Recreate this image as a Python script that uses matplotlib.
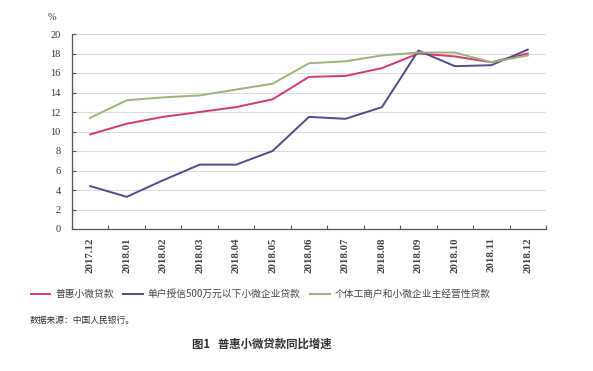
import matplotlib
matplotlib.use('Agg')
import matplotlib.pyplot as plt

months = ['2017.12', '2018.01', '2018.02', '2018.03', '2018.04', '2018.05', '2018.06',
          '2018.07', '2018.08', '2018.09', '2018.10', '2018.11', '2018.12']
puhui = [9.7, 10.8, 11.5, 12.0, 12.5, 13.3, 15.6, 15.7, 16.5, 18.0, 17.7, 17.1, 18.0]
danhu = [4.4, 3.3, 5.0, 6.6, 6.6, 8.0, 11.5, 11.3, 12.5, 18.3, 16.7, 16.8, 18.4]
geti = [11.4, 13.2, 13.5, 13.7, 14.3, 14.9, 17.0, 17.2, 17.8, 18.1, 18.1, 17.1, 17.8]
series_names = ['普惠小微贷款', '单户授信500万元以下小微企业贷款', '个体工商户和小微企业主经营性贷款']
yticks = [0, 2, 4, 6, 8, 10, 12, 14, 16, 18, 20]

cjk = ['Noto Sans CJK SC', 'DejaVu Sans']
serif = 'Liberation Serif'

fig = plt.figure(figsize=(5.93, 3.71), dpi=100)
ax = fig.add_axes([72/593, 142/371, 474/593, 195/371])

x = list(range(len(months)))
ax.plot(x, puhui, color='#d8376a', lw=1.4, label=series_names[0])
ax.plot(x, danhu, color='#4f4b8f', lw=1.4, label=series_names[1])
ax.plot(x, geti, color='#9ab47b', lw=1.4, label=series_names[2])

ax.set_xlim(-0.5, len(months) - 0.5)
ax.set_ylim(0, 20)
ax.set_yticks(yticks)
ax.set_yticklabels([str(v) for v in yticks], fontfamily=serif, fontsize=7.5, color='#333333')
ax.tick_params(axis='y', direction='in', length=3, width=0.8, color='#555555', pad=8)

# boundary ticks (major, no labels) and centered labels (minor)
ax.set_xticks([i - 0.5 for i in range(len(months) + 1)])
ax.set_xticklabels([])
ax.tick_params(axis='x', which='major', direction='in', length=3, width=0.8, color='#555555')
ax.set_xticks(x, minor=True)
ax.set_xticklabels(months, minor=True, rotation=90, fontfamily=serif, fontsize=7.8,
                   fontweight='bold', color='#444444')
ax.tick_params(axis='x', which='minor', length=0, pad=6)

ax.grid(axis='y', color='#dcdcdc', lw=0.8)
ax.set_axisbelow(True)
for s in ['top', 'right']:
    ax.spines[s].set_visible(False)
for s in ['left', 'bottom']:
    ax.spines[s].set_color('#555555')
    ax.spines[s].set_linewidth(0.9)

fig.text(52/593, 1 - 18/371, '%', fontfamily=serif, fontsize=7.5, color='#333333',
         ha='center', va='center')

fig.legend(loc='center left', bbox_to_anchor=(22/593, 1 - 294/371), ncol=3, frameon=False,
           prop={'family': cjk, 'size': 7.0}, handlelength=2.0, handletextpad=0.5,
           columnspacing=1.0, labelcolor='#444444')

fig.text(30/593, 1 - 320/371, '数据来源：中国人民银行。', fontfamily=cjk, fontsize=6.3,
         color='#333333', ha='left', va='center')
fig.text(262/593, 1 - 344/371, '图1   普惠小微贷款同比增速', fontfamily=cjk, fontsize=8.2,
         fontweight='bold', color='#333333', ha='center', va='center')

fig.savefig('out.png', dpi=100)
